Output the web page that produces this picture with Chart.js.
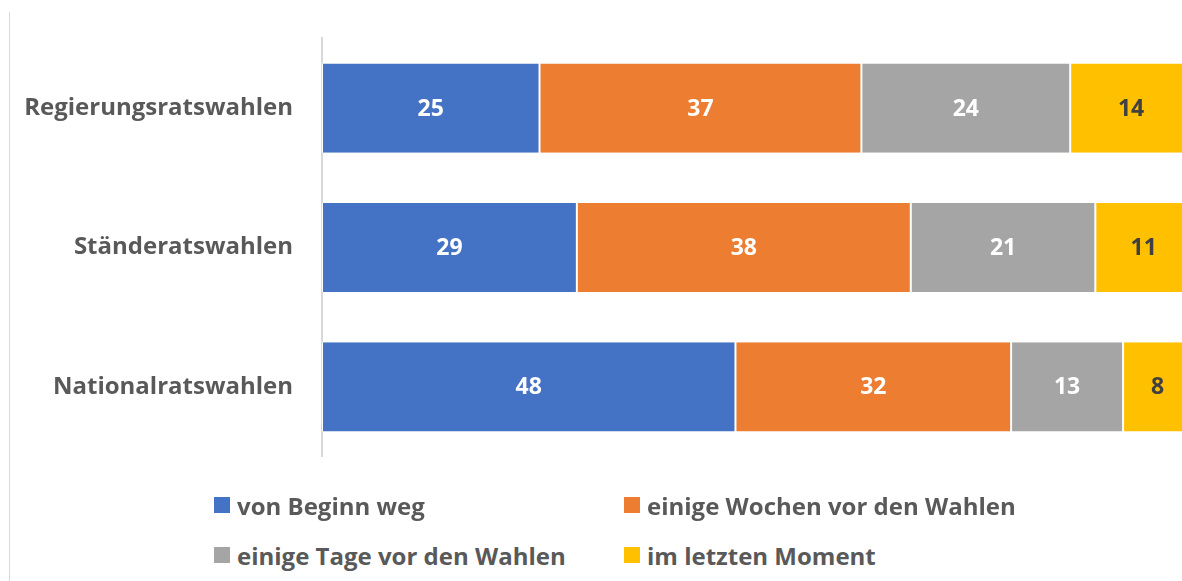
<!DOCTYPE html>
<html>
<head>
<meta charset="utf-8">
<script src="https://cdn.jsdelivr.net/npm/chart.js@4"></script>
<style>
  html, body { margin: 0; padding: 0; background: #fff; overflow: hidden; }
  body { width: 1182px; height: 581px; position: relative; font-family: "Open Sans", sans-serif; }
  #frame { position: absolute; left: 9px; top: 12px; bottom: 0; border-left: 1px solid #d9d9d9; }
  #wrap { position: absolute; left: 0; top: -5px; width: 1200px; height: 505px; }
  #legend { position: absolute; left: 214px; top: 487px; width: 900px; }
  .item { position: absolute; display: flex; align-items: center; height: 36px; font-weight: bold; font-size: 24px; color: #595959; white-space: nowrap; }
  .item span.box { width: 16px; height: 16px; margin-right: 7px; }
</style>
</head>
<body>
<div id="frame"></div>
<div id="wrap"><canvas id="chart"></canvas></div>
<div id="legend"></div>
<script>
// Kategorien und Werte (in %)
const categories = ['Regierungsratswahlen', 'Ständeratswahlen', 'Nationalratswahlen'];
const seriesNames = ['von Beginn weg', 'einige Wochen vor den Wahlen', 'einige Tage vor den Wahlen', 'im letzten Moment'];
const vonBeginn = [25, 29, 48];
const wochenVorher = [37, 38, 32];
const tageVorher = [24, 21, 13];
const letzterMoment = [14, 11, 8];
const colors = ['#4472C4', '#ED7D31', '#A5A5A5', '#FFC000'];
const labelColors = ['#ffffff', '#ffffff', '#ffffff', '#404040'];

const rawSeries = [vonBeginn, wochenVorher, tageVorher, letzterMoment];

// 100%-gestapelt: jede Zeile auf ihre Summe normieren
const totals = categories.map((c, i) => rawSeries.reduce((s, arr) => s + arr[i], 0));

const datasets = rawSeries.map((arr, k) => ({
  label: seriesNames[k],
  data: arr.map((v, i) => v / totals[i] * 100),
  raw: arr,
  backgroundColor: colors[k],
  borderColor: '#ffffff',
  borderWidth: { left: 1, right: 1, top: 0, bottom: 0 },
  borderSkipped: false,
  categoryPercentage: 1,
  barPercentage: 0.64,
}));

// Werte in die Balken schreiben
const valueLabels = {
  id: 'valueLabels',
  afterDatasetsDraw(chart) {
    const ctx = chart.ctx;
    ctx.save();
    ctx.font = 'bold 23px "Open Sans", sans-serif';
    ctx.textAlign = 'center';
    ctx.textBaseline = 'middle';
    chart.data.datasets.forEach((ds, k) => {
      chart.getDatasetMeta(k).data.forEach((bar, i) => {
        const p = bar.getProps(['x', 'y', 'base'], true);
        ctx.fillStyle = labelColors[k];
        ctx.fillText(String(ds.raw[i]), (p.x + p.base) / 2, p.y + 1);
      });
    });
    ctx.restore();
  }
};

new Chart(document.getElementById('chart'), {
  type: 'bar',
  data: { labels: categories, datasets: datasets },
  plugins: [valueLabels],
  options: {
    indexAxis: 'y',
    responsive: true,
    maintainAspectRatio: false,
    animation: false,
    layout: { padding: { top: 33, bottom: 15, right: 8, left: 0 } },
    plugins: {
      legend: { display: false },
      tooltip: { enabled: false },
    },
    scales: {
      x: {
        stacked: true,
        min: 0,
        max: 100,
        display: false,
      },
      y: {
        stacked: true,
        grid: { display: true, drawOnChartArea: false, drawTicks: false },
        border: { display: true, color: '#d9d9d9', width: 2 },
        ticks: {
          color: '#595959',
          padding: 29,
          font: { family: '"Open Sans", sans-serif', size: 24, weight: 'bold' },
        },
        afterFit: function(scale) { scale.width = 322; }
      }
    }
  }
});

// Legende in zwei Spalten
const legend = document.getElementById('legend');
const pos = [[0, 0], [410, 0], [0, 50], [410, 50]];
seriesNames.forEach((name, k) => {
  const el = document.createElement('div');
  el.className = 'item';
  el.style.left = pos[k][0] + 'px';
  el.style.top = pos[k][1] + 'px';
  el.innerHTML = '<span class="box" style="background:' + colors[k] + '"></span>' + name;
  legend.appendChild(el);
});
</script>
</body>
</html>
